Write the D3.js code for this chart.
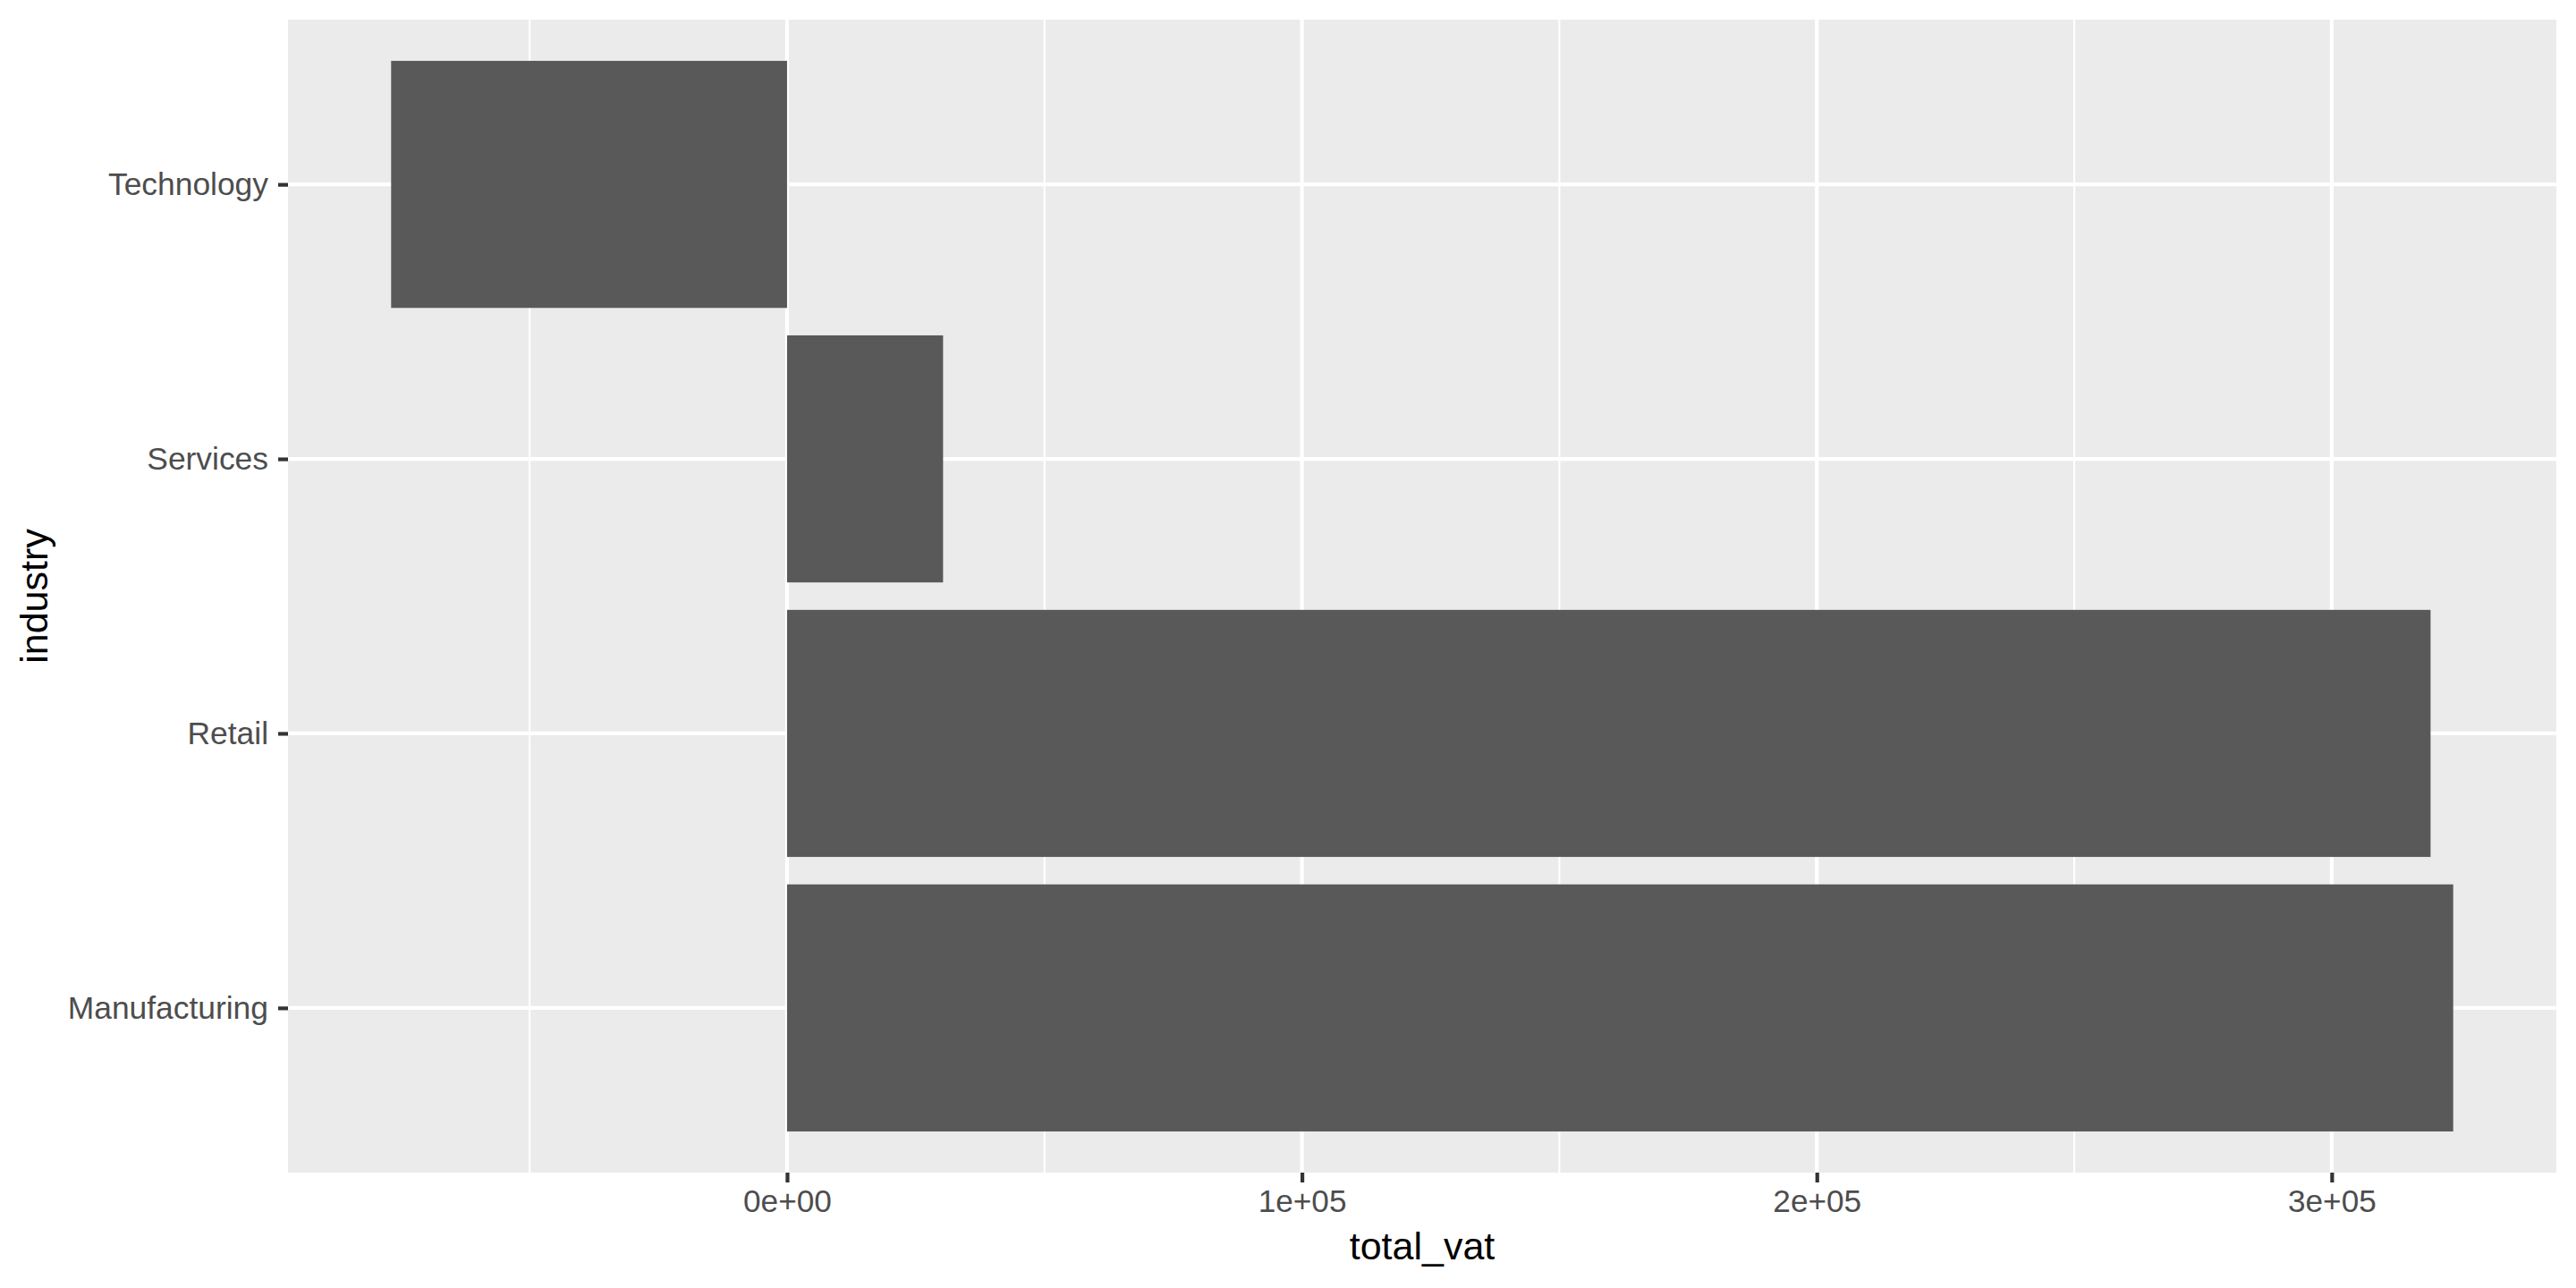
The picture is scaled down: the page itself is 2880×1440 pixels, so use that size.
<!DOCTYPE html>
<html>
<head>
<meta charset="utf-8">
<script src="https://cdn.jsdelivr.net/npm/d3@7"></script>
<style>
  html, body { margin: 0; padding: 0; background: #fff; }
  svg { display: block; }
  text { font-family: "Liberation Sans", Arial, sans-serif; }
</style>
</head>
<body>
<svg id="chart" width="2880" height="1440"></svg>
<script>
const categories = ["Manufacturing", "Retail", "Services", "Technology"];
const totalVat = [323600, 319200, 30300, -76900];
const xTickValues = [0, 100000, 200000, 300000];
const xTickLabels = ["0e+00", "1e+05", "2e+05", "3e+05"];
const xMinorValues = [-50000, 50000, 150000, 250000];
const xTitle = "total_vat";
const yTitle = "industry";

const W = 2880, H = 1440;
const panel = { left: 322, right: 2858, top: 22, bottom: 1311 };

const svg = d3.select("#chart");
svg.append("rect").attr("width", W).attr("height", H).attr("fill", "#fff");

const data = categories.map((c, i) => ({ industry: c, value: totalVat[i] }));

const xmin = d3.min(totalVat.concat([0])), xmax = d3.max(totalVat.concat([0]));
const pad = (xmax - xmin) * 0.05;
const x = d3.scaleLinear().domain([xmin - pad, xmax + pad]).range([panel.left, panel.right]);

const y = d3.scalePoint().domain(categories).range([panel.bottom, panel.top]).padding(0.6);
const step = y.step();
const bandH = step * 0.9;

svg.append("rect")
  .attr("x", panel.left).attr("y", panel.top)
  .attr("width", panel.right - panel.left).attr("height", panel.bottom - panel.top)
  .attr("fill", "#EBEBEB");

const grid = svg.append("g");
grid.selectAll("line.minor").data(xMinorValues.filter(v => x(v) > panel.left && x(v) < panel.right))
  .join("line").attr("class", "minor")
  .attr("x1", d => x(d)).attr("x2", d => x(d))
  .attr("y1", panel.top).attr("y2", panel.bottom)
  .attr("stroke", "#fff").attr("stroke-width", 2.1);
grid.selectAll("line.majx").data(xTickValues)
  .join("line").attr("class", "majx")
  .attr("x1", d => x(d)).attr("x2", d => x(d))
  .attr("y1", panel.top).attr("y2", panel.bottom)
  .attr("stroke", "#fff").attr("stroke-width", 4.2);
grid.selectAll("line.majy").data(categories)
  .join("line").attr("class", "majy")
  .attr("x1", panel.left).attr("x2", panel.right)
  .attr("y1", d => y(d)).attr("y2", d => y(d))
  .attr("stroke", "#fff").attr("stroke-width", 4.2);

svg.append("g").selectAll("rect").data(data).join("rect")
  .attr("x", d => x(Math.min(0, d.value)))
  .attr("width", d => Math.abs(x(d.value) - x(0)))
  .attr("y", d => y(d.industry) - bandH / 2)
  .attr("height", bandH)
  .attr("fill", "#595959");

const xAxis = d3.axisBottom(x).tickValues(xTickValues)
  .tickFormat((d, i) => xTickLabels[i]).tickSize(11).tickPadding(8);
const gx = svg.append("g").attr("transform", `translate(0,${panel.bottom})`).call(xAxis);
gx.select(".domain").remove();
gx.selectAll(".tick line").attr("stroke", "#333333").attr("stroke-width", 4.2);
gx.selectAll(".tick text").attr("fill", "#4D4D4D").attr("font-size", 35.2)
  .attr("font-family", "Liberation Sans, Arial, sans-serif");

const yAxis = d3.axisLeft(y).tickSize(11).tickPadding(11);
const gy = svg.append("g").attr("transform", `translate(${panel.left},0)`).call(yAxis);
gy.select(".domain").remove();
gy.selectAll(".tick line").attr("stroke", "#333333").attr("stroke-width", 4.2);
gy.selectAll(".tick text").attr("fill", "#4D4D4D").attr("font-size", 35.4)
  .attr("font-family", "Liberation Sans, Arial, sans-serif");

svg.append("text")
  .attr("x", (panel.left + panel.right) / 2).attr("y", 1408)
  .attr("text-anchor", "middle").attr("font-size", 43).attr("fill", "#000")
  .text(xTitle);
svg.append("text")
  .attr("transform", `translate(53,${(panel.top + panel.bottom) / 2}) rotate(-90)`)
  .attr("text-anchor", "middle").attr("font-size", 43).attr("fill", "#000")
  .text(yTitle);
</script>
</body>
</html>
